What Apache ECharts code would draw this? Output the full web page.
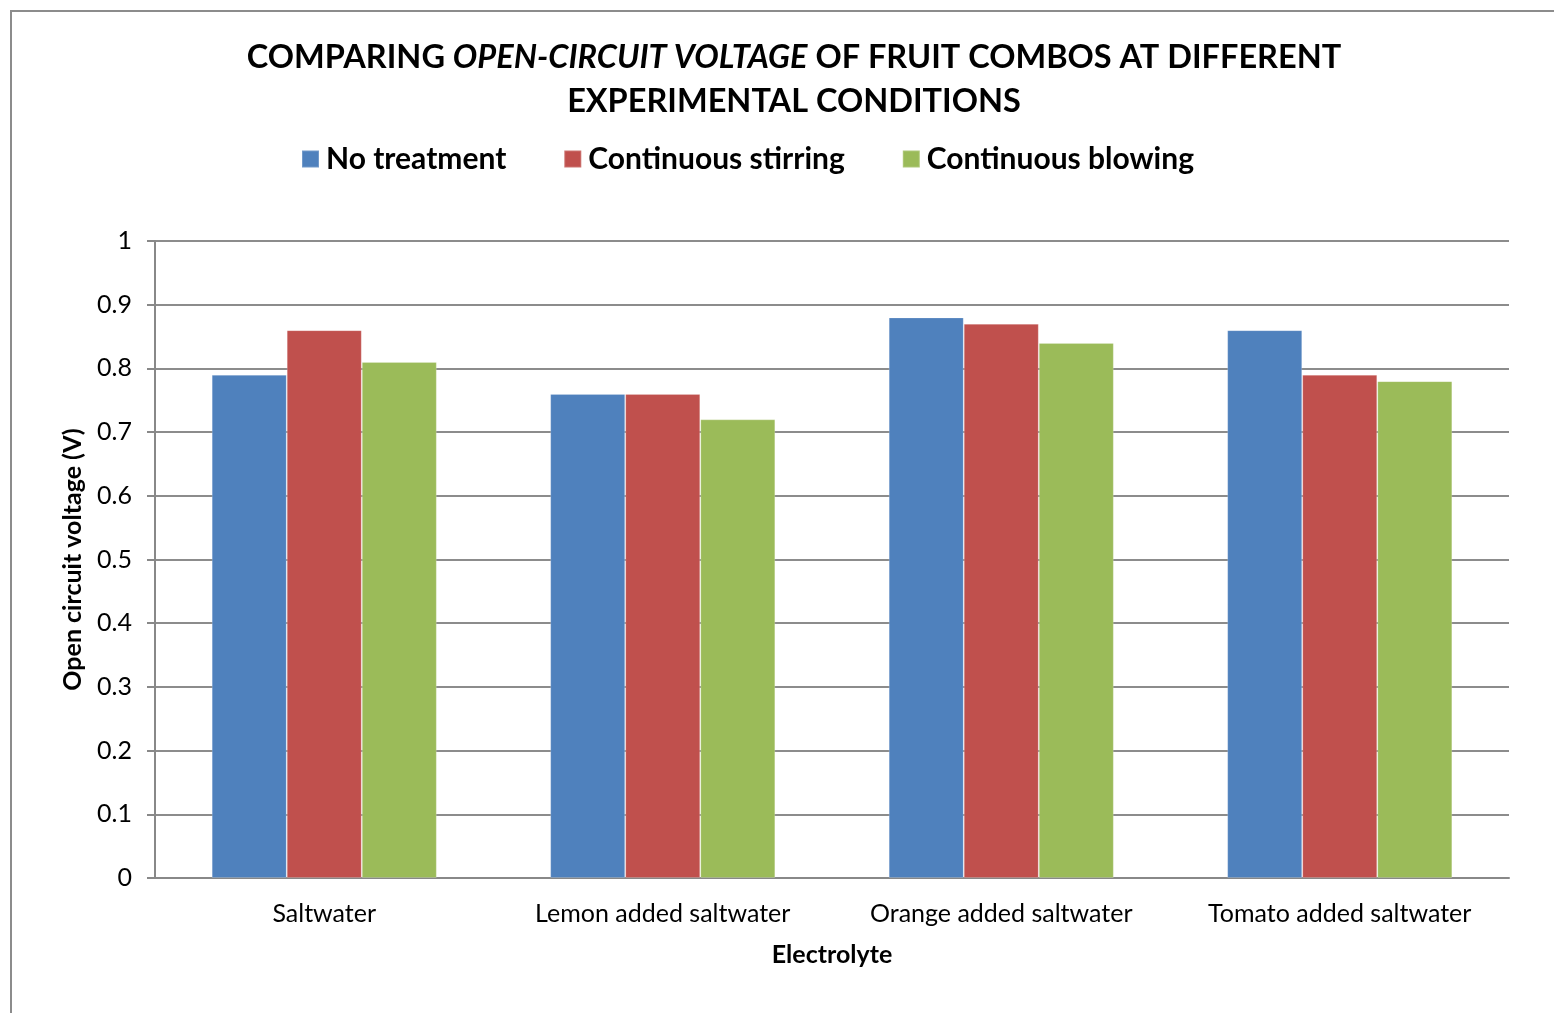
<!DOCTYPE html>
<html><head><meta charset="utf-8">
<script src="https://cdn.jsdelivr.net/npm/echarts@6/dist/echarts.min.js"></script>
<style>html,body{margin:0;padding:0;background:#fff}#c{width:1554px;height:1013px}</style>
</head><body><div id="c"></div>
<script>
const categories = ['Saltwater', 'Lemon added saltwater', 'Orange added saltwater', 'Tomato added saltwater'];
const seriesNames = ['No treatment', 'Continuous stirring', 'Continuous blowing'];
const noTreatment = [0.79, 0.76, 0.88, 0.86];
const continuousStirring = [0.86, 0.76, 0.87, 0.79];
const continuousBlowing = [0.81, 0.72, 0.84, 0.78];
const colors = ['#4F81BD', '#C0504D', '#9BBB59'];
const FONT = 'Lato, "Open Sans", sans-serif';

const chart = echarts.init(document.getElementById('c'));
const values = [noTreatment, continuousStirring, continuousBlowing];
chart.setOption({
  animation: false,
  color: colors,
  graphic: [{
    type: 'rect', shape: {x: 11, y: 11, width: 1560, height: 1020},
    style: {fill: 'none', stroke: '#8c8c8c', lineWidth: 2}, silent: true
  }],
  title: {
    text: '{b|COMPARING }{i|OPEN-CIRCUIT VOLTAGE}{b| OF FRUIT COMBOS AT DIFFERENT}\n{b|EXPERIMENTAL CONDITIONS}',
    left: 789, top: 31, textAlign: 'center',
    textStyle: {
      fontFamily: FONT, fontSize: 32.5, fontWeight: 'bold', color: '#000', lineHeight: 44,
      rich: {
        b: {fontFamily: FONT, fontSize: 32.5, fontWeight: 'bold', color: '#000', lineHeight: 44},
        i: {fontFamily: FONT, fontSize: 32.5, fontWeight: 'bold', fontStyle: 'italic', color: '#000', lineHeight: 44}
      }
    }
  },
  legend: {
    top: 144, left: 301, padding: 0,
    itemWidth: 17, itemHeight: 17, itemGap: 57,
    icon: 'rect',
    textStyle: {fontFamily: FONT, fontSize: 30, fontWeight: 'bold', color: '#000', padding: [0,0,0,2]},
    data: seriesNames
  },
  grid: {left: 155, right: 45, top: 241, bottom: 135, containLabel: false},
  xAxis: {
    type: 'category', data: categories,
    name: 'Electrolyte', nameLocation: 'middle', nameGap: 64,
    nameTextStyle: {fontFamily: FONT, fontSize: 25, fontWeight: 'bold', color: '#000'},
    axisLine: {lineStyle: {color: '#888', width: 2}},
    axisTick: {show: false},
    axisLabel: {fontFamily: FONT, fontSize: 25, color: '#000', margin: 23, interval: 0, hideOverlap: false}
  },
  yAxis: {
    type: 'value', min: 0, max: 1, interval: 0.1,
    name: 'Open circuit voltage (V)', nameLocation: 'middle', nameGap: 70,
    nameTextStyle: {fontFamily: FONT, fontSize: 25, fontWeight: 'bold', color: '#000'},
    axisLine: {show: true, lineStyle: {color: '#888', width: 2}},
    axisTick: {show: true, length: 8, lineStyle: {color: '#888', width: 2}},
    axisLabel: {fontFamily: FONT, fontSize: 25, color: '#000', margin: 23,
      formatter: v => String(Math.round(v * 10) / 10)},
    splitLine: {lineStyle: {color: '#8c8c8c', width: 2}}
  },
  series: seriesNames.map((n, i) => ({
    name: n, type: 'bar', data: values[i],
    barGap: '0%', barCategoryGap: '33.5%',
    itemStyle: {color: colors[i], borderColor: 'rgba(255,255,255,0.2)', borderWidth: 1}
  }))
});
</script></body></html>
